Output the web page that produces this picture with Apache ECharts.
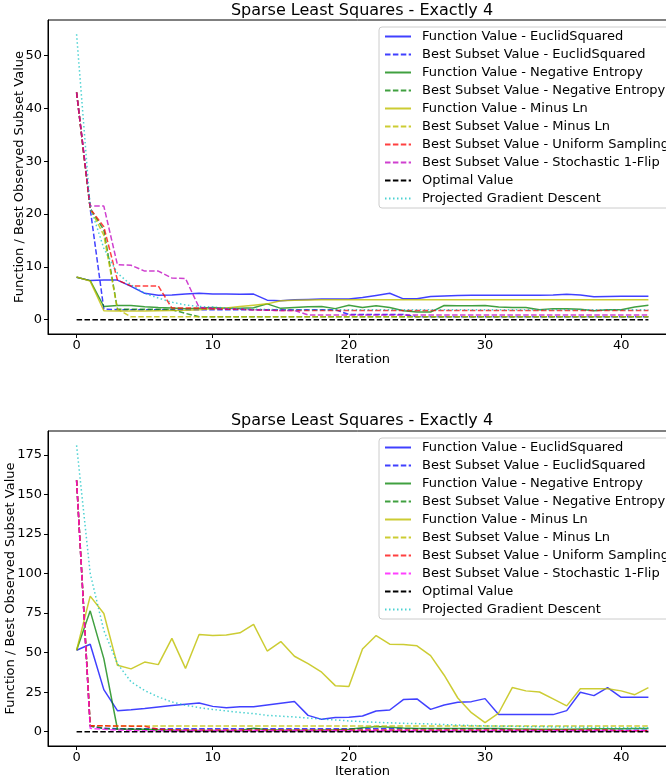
<!DOCTYPE html>
<html>
<head>
<meta charset="utf-8">
<script src="https://cdn.jsdelivr.net/npm/echarts@6/dist/echarts.min.js"></script>
<style>
  html, body { margin: 0; padding: 0; background: #fff; }
  #top_main { position: absolute; left: 0; top: 0; width: 666px; height: 388px; }
  #bottom_main { position: absolute; left: 0; top: 388px; width: 666px; height: 389px; }
</style>
</head>
<body>
<div id="top_main"></div>
<div id="bottom_main"></div>
<script>
var chartTitle = 'Sparse Least Squares - Exactly 4';
var legendNames = [
  'Function Value - EuclidSquared',
  'Best Subset Value - EuclidSquared',
  'Function Value - Negative Entropy',
  'Best Subset Value - Negative Entropy',
  'Function Value - Minus Ln',
  'Best Subset Value - Minus Ln',
  'Best Subset Value - Uniform Sampling',
  'Best Subset Value - Stochastic 1-Flip',
  'Optimal Value',
  'Projected Gradient Descent'
];
var iterations = [0, 1, 2, 3, 4, 5, 6, 7, 8, 9, 10, 11, 12, 13, 14, 15, 16, 17, 18, 19, 20,
  21, 22, 23, 24, 25, 26, 27, 28, 29, 30, 31, 32, 33, 34, 35, 36, 37, 38, 39, 40, 41, 42];
var xTicks = [0, 10, 20, 30, 40];
var yTicksTop = [0, 10, 20, 30, 40, 50];
var yTicksBottom = [0, 25, 50, 75, 100, 125, 150, 175];

// top chart
var fvEuclidTop = [8.05, 7.4, 7.5, 7.5, 6.3, 5.0, 4.65, 4.7, 4.85, 5.0, 4.85, 4.85, 4.8, 4.85, 3.7,
  3.6, 3.8, 3.85, 3.9, 3.9, 3.9, 4.2, 4.6, 5.0, 3.95, 3.95, 4.4, 4.5, 4.6, 4.65, 4.65, 4.65, 4.65,
  4.65, 4.65, 4.7, 4.8, 4.7, 4.35, 4.4, 4.45, 4.45, 4.45];
var bsEuclidTop = [43, 21, 2.0, 1.9, 1.9, 1.9, 1.9, 1.9, 1.9, 1.9, 1.9, 1.9, 1.9, 1.9, 1.9, 1.9,
  1.9, 1.9, 1.9, 1.9, 1.0, 1.0, 1.0, 1.0, 1.0, 0.55, 0.55, 0.55, 0.55, 0.55, 0.55, 0.55, 0.55,
  0.55, 0.55, 0.55, 0.55, 0.55, 0.55, 0.55, 0.55, 0.55, 0.55];
var fvNegEntTop = [8.05, 7.4, 2.5, 2.7, 2.7, 2.45, 2.3, 2.2, 2.1, 2.15, 2.3, 2.15, 2.15, 2.25, 3.0,
  2.15, 2.3, 2.45, 2.5, 2.1, 2.75, 2.3, 2.65, 2.3, 1.7, 1.45, 1.45, 2.7, 2.65, 2.65, 2.7, 2.4, 2.3,
  2.3, 1.9, 2.1, 2.1, 2.0, 1.7, 1.9, 1.9, 2.4, 2.75];
var bsNegEntTop = [43, 21, 17, 2.0, 2.0, 2.0, 2.0, 1.9, 1.2, 0.55, 0.55, 0.55, 0.55, 0.55, 0.55,
  0.55, 0.55, 0.55, 0.55, 0.55, 0.55, 0.55, 0.55, 0.55, 0.55, 0.55, 0.55, 0.55, 0.55, 0.55, 0.55,
  0.55, 0.55, 0.55, 0.55, 0.55, 0.55, 0.55, 0.55, 0.55, 0.55, 0.55, 0.55];
var fvMinusLnTop = [8.1, 7.3, 1.7, 1.65, 1.65, 1.65, 1.7, 1.75, 1.8, 1.9, 2.1, 2.2, 2.5, 2.75, 3.0,
  3.6, 3.7, 3.75, 3.8, 3.8, 3.8, 3.8, 3.8, 3.8, 3.8, 3.8, 3.8, 3.8, 3.8, 3.8, 3.8, 3.8, 3.8, 3.8,
  3.8, 3.8, 3.8, 3.8, 3.8, 3.8, 3.8, 3.8, 3.8];
var bsMinusLnTop = [43, 21, 16, 2.0, 0.55, 0.55, 0.55, 0.55, 0.55, 0.55, 0.55, 0.55, 0.55, 0.55,
  0.55, 0.55, 0.55, 0.55, 0.55, 0.55, 0.55, 0.55, 0.55, 0.55, 0.55, 0.55, 0.55, 0.55, 0.55, 0.55,
  0.55, 0.55, 0.55, 0.55, 0.55, 0.55, 0.55, 0.55, 0.55, 0.55, 0.55, 0.55, 0.55];
var bsUniformTop = [43, 21, 17.6, 7.5, 6.4, 6.4, 6.4, 2.2, 2.2, 2.2, 2.1, 2.0, 2.0, 1.9, 1.8, 1.75,
  1.75, 1.75, 1.75, 1.75, 1.75, 1.75, 1.75, 1.75, 1.75, 1.75, 1.75, 1.75, 1.75, 1.75, 1.75, 1.75,
  1.75, 1.75, 1.75, 1.75, 1.75, 1.75, 1.75, 1.75, 1.75, 1.75, 1.75];
var bsFlipTop = [43, 21.5, 21.5, 10.4, 10.3, 9.2, 9.2, 7.9, 7.8, 2.3, 2.2, 2.1, 2.0, 1.9, 1.8, 1.75,
  1.75, 0.9, 0.9, 0.9, 0.9, 0.9, 0.9, 0.9, 0.9, 0.9, 0.9, 0.9, 0.9, 0.9, 0.9, 0.9, 0.9, 0.9, 0.9,
  0.9, 0.9, 0.9, 0.9, 0.9, 0.9, 0.9, 0.9];
var optimalTop = [0, 0, 0, 0, 0, 0, 0, 0, 0, 0, 0, 0, 0, 0, 0, 0, 0, 0, 0, 0, 0, 0, 0, 0, 0, 0, 0,
  0, 0, 0, 0, 0, 0, 0, 0, 0, 0, 0, 0, 0, 0, 0, 0];
var pgdTop = [54, 21.4, 13.5, 8.8, 6.6, 5.0, 4.1, 3.3, 2.8, 2.5, 2.4, 2.2, 2.1, 2.0, 1.95, 1.9, 1.9,
  1.9, 1.9, 1.9, 1.9, 1.9, 1.9, 1.9, 1.9, 1.9, 1.9, 1.9, 1.9, 1.9, 1.9, 1.9, 1.9, 1.9, 1.9, 1.9,
  1.9, 1.9, 1.9, 1.9, 1.9, 1.9, 1.9];

// bottom chart
var fvEuclidBot = [51.5, 55.3, 26.6, 13.3, 13.8, 14.6, 15.6, 16.5, 17.3, 18.1, 16.0, 15.2, 15.7,
  15.7, 16.9, 18.0, 19.1, 10.3, 7.8, 8.9, 9.1, 9.9, 13.1, 13.7, 20.3, 20.7, 14.1, 16.9, 18.6, 19.0,
  20.9, 10.8, 10.8, 10.8, 10.8, 10.8, 13.3, 24.9, 22.8, 27.9, 21.7, 21.7, 21.7];
var bsEuclidBot = [159, 3.5, 2.2, 1.8, 1.8, 1.8, 1.8, 1.8, 1.8, 1.8, 1.8, 1.8, 1.8, 1.8, 1.8, 1.8,
  1.8, 1.8, 1.8, 1.8, 1.8, 1.8, 1.8, 1.8, 1.8, 1.8, 1.8, 1.8, 1.8, 1.8, 1.8, 1.8, 0.85, 0.85, 0.85,
  0.85, 0.85, 0.85, 0.85, 0.85, 0.85, 0.85, 0.85];
var fvNegEntBot = [51.5, 76.4, 46.2, 1.7, 1.5, 1.5, 1.2, 1.0, 0.9, 0.8, 0.8, 0.8, 0.8, 2.2, 1.2,
  1.0, 0.9, 0.9, 1.0, 1.2, 1.5, 2.5, 3.2, 2.8, 2.3, 2.0, 2.0, 2.0, 2.0, 2.0, 2.0, 2.0, 1.8, 1.7,
  1.6, 1.6, 1.6, 1.7, 1.8, 1.9, 1.9, 2.0, 2.0];
var bsNegEntBot = [159, 3.6, 2.0, 1.5, 1.5, 1.4, 1.0, 0.6, 0.6, 0.6, 0.6, 0.6, 0.6, 0.6, 0.6, 0.6,
  0.6, 0.6, 0.6, 0.6, 0.6, 0.6, 0.6, 0.6, 0.6, 0.6, 0.6, 0.6, 0.6, 0.6, 0.6, 0.6, 0.6, 0.6, 0.6,
  0.6, 0.6, 0.6, 0.6, 0.6, 0.6, 0.6, 0.6];
var fvMinusLnBot = [51.5, 85.7, 74.7, 42, 39.7, 44, 42.4, 59, 40, 61.4, 60.8, 61.2, 62.5, 67.8, 51,
  57, 47.7, 43, 37.6, 29.1, 28.5, 52.3, 60.8, 55.3, 55.1, 54.3, 48.1, 35.7, 21.3, 12, 5.7, 11.8,
  27.9, 25.8, 25.1, 20.7, 16.3, 27.2, 27.2, 27.2, 25.8, 23.4, 27.9];
var bsMinusLnBot = [159, 3.8, 3.7, 3.6, 3.6, 3.6, 3.6, 3.6, 3.6, 3.6, 3.6, 3.6, 3.6, 3.6, 3.6, 3.6,
  3.6, 3.6, 3.6, 3.6, 3.6, 3.6, 3.6, 3.6, 3.6, 3.6, 3.6, 3.6, 3.6, 3.6, 3.6, 3.6, 3.6, 3.6, 3.6,
  3.6, 3.6, 3.6, 3.6, 3.6, 3.6, 3.6, 3.6];
var bsUniformBot = [159, 3.8, 3.7, 3.6, 3.5, 3.4, 1.6, 1.2, 1.1, 1.0, 1.0, 1.0, 1.0, 1.0, 1.0, 1.0,
  1.0, 1.0, 1.0, 1.0, 1.0, 1.0, 1.0, 1.0, 1.0, 1.0, 1.0, 1.0, 1.0, 1.0, 1.0, 1.0, 1.0, 1.0, 1.0,
  1.0, 1.0, 1.0, 1.0, 1.0, 0.6, 0.6, 0.6];
var bsFlipBot = [159, 2.1, 1.5, 1.0, 0.8, 0.6, 0.6, 0.6, 0.6, 0.6, 0.6, 0.6, 0.6, 0.6, 0.6, 0.6,
  0.6, 0.6, 0.6, 0.6, 0.6, 0.6, 0.6, 0.6, 0.6, 0.6, 0.6, 0.6, 0.6, 0.6, 0.6, 0.6, 0.6, 0.6, 0.6,
  0.6, 0.6, 0.6, 0.6, 0.6, 0.6, 0.6, 0.6];
var optimalBot = [0, 0, 0, 0, 0, 0, 0, 0, 0, 0, 0, 0, 0, 0, 0, 0, 0, 0, 0, 0, 0, 0, 0, 0, 0, 0, 0,
  0, 0, 0, 0, 0, 0, 0, 0, 0, 0, 0, 0, 0, 0, 0, 0];
var pgdBot = [181, 100, 64, 43, 31.5, 26, 22, 18.8, 16.7, 15.2, 14.1, 13.1, 12.2, 11.4, 10.3, 9.8,
  9.3, 8.6, 8.0, 7.4, 6.8, 6.3, 5.9, 5.6, 5.3, 5.1, 4.9, 4.5, 4.2, 3.9, 3.7, 3.5, 3.4, 3.2, 3.1,
  3.0, 2.9, 2.8, 2.7, 2.6, 2.5, 2.5, 2.4];

var FONT = 'DejaVu Sans';
var DASH = [5.5, 2.4];
var DOT = [1.5, 2.5];

function line(name, values, color, dash, opacity) {
  return {
    name: name,
    type: 'line',
    symbol: 'none',
    showSymbol: false,
    animation: false,
    itemStyle: { color: color, opacity: opacity },
    lineStyle: { color: color, width: 1.5, type: dash, opacity: opacity },
    data: iterations.map(function (x, i) { return [x, values[i]]; })
  };
}

function buildOption(d) {
  return {
    animation: false,
    title: {
      text: chartTitle,
      left: 362,
      top: d.titleTop,
      padding: 0,
      textAlign: 'center',
      textStyle: { fontFamily: FONT, fontSize: 16, fontWeight: 'normal', color: '#000' }
    },
    legend: {
      data: legendNames,
      orient: 'vertical',
      left: 379,
      top: d.legendTop,
      itemWidth: 26,
      itemHeight: 14,
      itemGap: 5,
      padding: [3, 6, 3, 5],
      backgroundColor: 'rgba(255,255,255,0.8)',
      borderColor: '#cccccc',
      borderWidth: 1,
      borderRadius: 3,
      itemStyle: { opacity: 0, color: 'transparent', borderWidth: 0 },
      textStyle: { fontFamily: FONT, fontSize: 13, color: '#000', padding: [0, 0, 0, 6] }
    },
    grid: {
      left: 48, top: d.gridTop, width: 629, height: d.gridHeight,
      outerBoundsMode: 'none', containLabel: false,
      show: true, borderColor: '#000', borderWidth: 1, backgroundColor: 'transparent'
    },
    xAxis: {
      type: 'value',
      min: -2.1,
      max: 44.1,
      name: 'Iteration',
      nameLocation: 'middle',
      nameGap: 19,
      nameMoveOverlap: false,
      nameTextStyle: { fontFamily: FONT, fontSize: 13, color: '#000', verticalAlign: 'top' },
      axisLine: { show: true, onZero: false, lineStyle: { color: '#000', width: 1 } },
      axisTick: { show: true, length: 4, lineStyle: { color: '#000' }, customValues: xTicks },
      axisLabel: { fontFamily: FONT, fontSize: 13, color: '#000', margin: 5, customValues: xTicks },
      splitLine: { show: false }
    },
    yAxis: {
      type: 'value',
      min: d.yMin,
      max: d.yMax,
      name: 'Function / Best Observed Subset Value',
      nameLocation: 'middle',
      nameRotate: 90,
      nameGap: d.nameGap,
      nameMoveOverlap: false,
      nameTextStyle: { fontFamily: FONT, fontSize: 13, color: '#000', verticalAlign: 'bottom' },
      axisLine: { show: true, onZero: false, lineStyle: { color: '#000', width: 1 } },
      axisTick: { show: true, length: 4, lineStyle: { color: '#000' }, customValues: d.yTicks },
      axisLabel: { fontFamily: FONT, fontSize: 13, color: '#000', margin: 6, customValues: d.yTicks },
      splitLine: { show: false }
    },
    series: [
      line(legendNames[0], d.fvEuclid, '#0000ff', 'solid', 0.75),
      line(legendNames[1], d.bsEuclid, '#0000ff', DASH, 0.75),
      line(legendNames[2], d.fvNegEnt, '#008000', 'solid', 0.75),
      line(legendNames[3], d.bsNegEnt, '#008000', DASH, 0.75),
      line(legendNames[4], d.fvMinusLn, '#bfbf00', 'solid', 0.8),
      line(legendNames[5], d.bsMinusLn, '#bfbf00', DASH, 0.8),
      line(legendNames[6], d.bsUniform, '#ff0000', DASH, 0.75),
      line(legendNames[7], d.bsFlip, d.flipColor, DASH, 0.75),
      line(legendNames[8], d.optimal, '#000000', DASH, 1),
      line(legendNames[9], d.pgd, '#00bfbf', DOT, 0.7)
    ]
  };
}

var topChart = echarts.init(document.getElementById('top_main'));
topChart.setOption(buildOption({
  titleTop: 3, legendTop: 27, gridTop: 20, gridHeight: 314,
  yMin: -2.7, yMax: 56.7, yTicks: yTicksTop, nameGap: 22,
  fvEuclid: fvEuclidTop, bsEuclid: bsEuclidTop, fvNegEnt: fvNegEntTop, bsNegEnt: bsNegEntTop,
  fvMinusLn: fvMinusLnTop, bsMinusLn: bsMinusLnTop, bsUniform: bsUniformTop, bsFlip: bsFlipTop,
  optimal: optimalTop, pgd: pgdTop, flipColor: '#bf00bf'
}));

var bottomChart = echarts.init(document.getElementById('bottom_main'));
bottomChart.setOption(buildOption({
  titleTop: 25, legendTop: 50, gridTop: 43, gridHeight: 315,
  yMin: -9.05, yMax: 190.1, yTicks: yTicksBottom, nameGap: 31,
  fvEuclid: fvEuclidBot, bsEuclid: bsEuclidBot, fvNegEnt: fvNegEntBot, bsNegEnt: bsNegEntBot,
  fvMinusLn: fvMinusLnBot, bsMinusLn: bsMinusLnBot, bsUniform: bsUniformBot, bsFlip: bsFlipBot,
  optimal: optimalBot, pgd: pgdBot, flipColor: '#ff00ff'
}));
</script>
</body>
</html>
